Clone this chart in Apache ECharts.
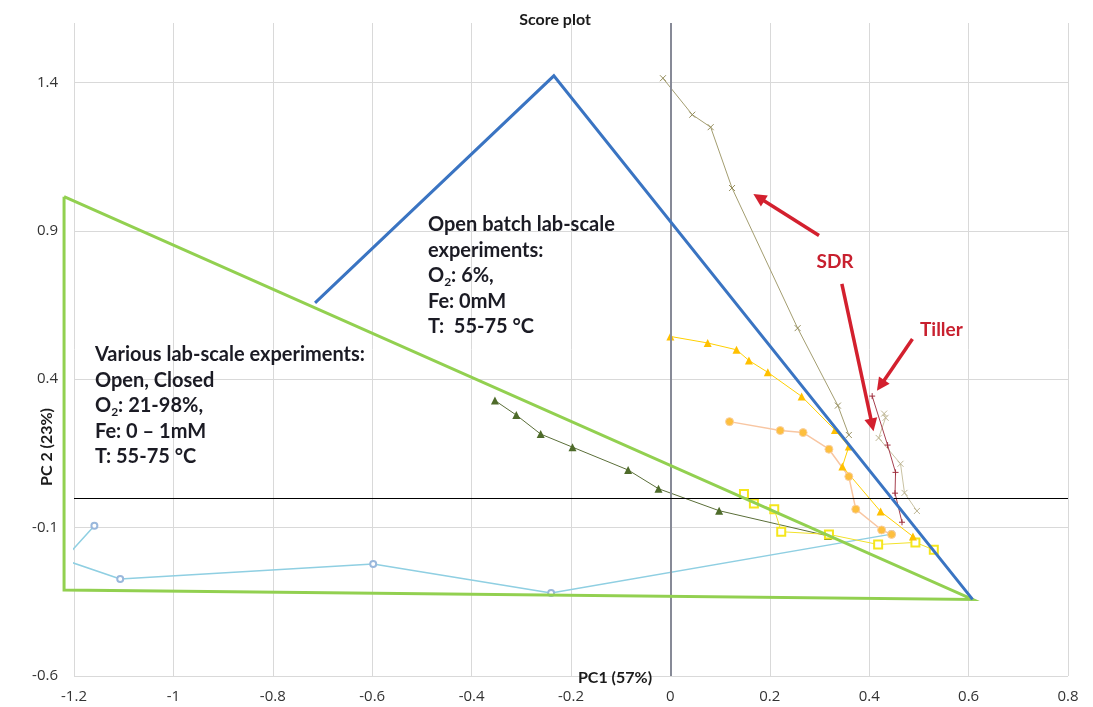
<!DOCTYPE html>
<html><head><meta charset="utf-8">
<script src="https://cdn.jsdelivr.net/npm/echarts@6/dist/echarts.min.js"></script>
<style>html,body{margin:0;padding:0;background:#fff}#c{width:1093px;height:707px}</style>
</head><body><div id="c"></div>
<script>
// ---- data (PC1, PC2 scores) ----
const sdrX = [-0.015, 0.044, 0.081, 0.124, 0.256, 0.337, 0.359];
const sdrY = [1.414, 1.291, 1.249, 1.044, 0.572, 0.311, 0.212];
const tillerX = [0.406, 0.437, 0.453, 0.452, 0.466];
const tillerY = [0.343, 0.178, 0.086, 0.016, -0.082];
const tanX = [0.430, 0.433, 0.419, 0.463, 0.471, 0.496];
const tanY = [0.284, 0.270, 0.202, 0.115, 0.017, -0.044];
const yTriX = [0.000, 0.075, 0.133, 0.158, 0.196, 0.264, 0.331, 0.359, 0.346, 0.423, 0.488];
const yTriY = [0.544, 0.522, 0.499, 0.463, 0.423, 0.342, 0.229, 0.173, 0.106, -0.046, -0.130];
const orangeX = [0.119, 0.221, 0.267, 0.319, 0.359, 0.373, 0.425, 0.445];
const orangeY = [0.257, 0.227, 0.220, 0.164, 0.072, -0.038, -0.108, -0.123];
const sqX = [0.148, 0.168, 0.209, 0.223, 0.319, 0.418, 0.493, 0.530];
const sqY = [0.013, -0.019, -0.038, -0.114, -0.123, -0.157, -0.150, -0.175];
const dgX = [-0.353, -0.310, -0.261, -0.197, -0.085, -0.024, 0.098, 0.317];
const dgY = [0.328, 0.279, 0.215, 0.171, 0.094, 0.031, -0.043, -0.128];
const lbX = [-1.159, -1.221, -1.107, -0.598, -0.240, 0.445];
const lbY = [-0.094, -0.208, -0.273, -0.223, -0.320, -0.122];
// region outlines
const openX = [-0.715, -0.2345, 0.608];
const openY = [0.657, 1.422, -0.342];
const variousX = [-1.220, -1.220, 0.608, -1.220];
const variousY = [1.015, -0.310, -0.342, 1.015];
// arrows [x1,y1,x2,y2]
const arrowSDR1 = [0.299, 0.884, 0.178, 1.012];
const arrowSDR2 = [0.345, 0.721, 0.406, 0.246];
const arrowTiller = [0.487, 0.535, 0.423, 0.379];
// axes
const xMin = -1.2, xMax = 0.8, xStep = 0.2;
const yMin = -0.6, yMax = 1.6, yStep = 0.5;
const xMinWide = -1.3; // hidden overlay axis so outlines may reach left of -1.2

function pts(xs, ys) { return xs.map((x, i) => [x, ys[i]]); }
const xMark = 'path://M0,0L10,10M10,0L0,10';
const plusMark = 'path://M5,0L5,10M0,5L10,5';
const fmt = v => String(Math.round(v * 10) / 10);

function dataSeries(name, xs, ys, lineColor, symbol, size, itemStyle, lw) {
  return {
    name, type: 'line', data: pts(xs, ys), z: 3,
    symbol, symbolSize: size, showSymbol: true,
    lineStyle: { color: lineColor, width: lw || 1 },
    itemStyle, emphasis: { disabled: true }
  };
}
function arrow(a) { return [{ coord: [a[0], a[1]] }, { coord: [a[2], a[3]] }]; }

const chart = echarts.init(document.getElementById('c'), null, { renderer: 'canvas' });
const labelFont = { fontFamily: 'Open Sans', fontSize: 15, color: '#333' };
const gridLeft = 74, gridRight = 25;
const plotW = 1093 - gridLeft - gridRight;
const wideLeft = gridLeft - plotW * (xMin - xMinWide) / (xMax - xMin);
const option = {
  animation: false,
  grid: [
    { left: gridLeft, right: gridRight, top: 23, bottom: 31, outerBoundsMode: 'none' },
    { left: wideLeft, right: gridRight, top: 23, bottom: 31, outerBoundsMode: 'none' }
  ],
  xAxis: [{
    type: 'value', min: xMin, max: xMax, interval: xStep,
    axisLine: { show: false }, axisTick: { show: false },
    splitLine: { show: true, lineStyle: { color: '#d9d9d9', width: 1 } },
    axisLabel: Object.assign({ margin: 13, formatter: fmt }, labelFont)
  }, {
    type: 'value', gridIndex: 1, min: xMinWide, max: xMax, show: false, splitLine: { show: false }
  }],
  yAxis: [{
    type: 'value', min: yMin, max: yMax, interval: yStep,
    axisLine: { show: false }, axisTick: { show: false },
    splitLine: { show: true, showMaxLine: false, lineStyle: { color: '#d9d9d9', width: 1 } },
    axisLabel: Object.assign({ margin: 16, showMaxLabel: false, formatter: fmt }, labelFont)
  }, {
    type: 'value', gridIndex: 1, min: yMin, max: yMax, show: false, splitLine: { show: false }
  }],
  series: [
    { name: 'axes', type: 'line', data: [], z: 1,
      markLine: { silent: true, symbol: 'none', label: { show: false }, animation: false,
        data: [
          { xAxis: 0, lineStyle: { color: '#878a97', width: 2, type: 'solid' } },
          { yAxis: 0, lineStyle: { color: '#000000', width: 1, type: 'solid' } }
        ] } },
    dataSeries('Light blue', lbX, lbY, '#8fcfe2', 'emptyCircle', 6, { color: '#9ab8dc', borderWidth: 1 }, 1.5),
    dataSeries('Dark green', dgX, dgY, '#5a6e38', 'triangle', 8, { color: '#4e6b2a' }),
    dataSeries('Squares', sqX, sqY, '#f2e22a', 'emptyRect', 8, { color: '#f5e61c', borderWidth: 1 }),
    dataSeries('Orange', orangeX, orangeY, '#f8c6a2', 'circle', 8, { color: '#fdbf3e', borderColor: '#f9cfa0', borderWidth: 1 }, 1.5),
    dataSeries('Yellow', yTriX, yTriY, '#ffd000', 'triangle', 8, { color: '#ffc000' }),
    dataSeries('SDR', sdrX, sdrY, '#a39d70', xMark, 6, { color: 'transparent', borderColor: '#958e5e', borderWidth: 1 }),
    dataSeries('Tan', tanX, tanY, '#c9c2a2', xMark, 6, { color: 'transparent', borderColor: '#bdb593', borderWidth: 1 }),
    dataSeries('Tiller', tillerX, tillerY, '#a6404f', plusMark, 6, { color: 'transparent', borderColor: '#a0303f', borderWidth: 1 }),
    { name: 'Various', type: 'line', xAxisIndex: 1, yAxisIndex: 1, data: pts(variousX, variousY), z: 5, clip: false,
      symbol: 'none', lineStyle: { color: '#92d050', width: 3, join: 'miter' } },
    { name: 'Open batch', type: 'line', xAxisIndex: 1, yAxisIndex: 1, data: pts(openX, openY), z: 6, clip: false,
      symbol: 'none', lineStyle: { color: '#3a74c2', width: 3, join: 'miter' } },
    { name: 'arrows', type: 'line', data: [], z: 8,
      markLine: { silent: true, symbol: ['none', 'triangle'], symbolSize: 13, label: { show: false }, animation: false,
        lineStyle: { color: '#d3202e', width: 3.5, type: 'solid' },
        data: [arrow(arrowSDR1), arrow(arrowSDR2), arrow(arrowTiller)] } }
  ],
  graphic: [
    { type: 'text', x: 555, y: 20, z: 20, style: { text: 'Score plot', fontFamily: 'Lato', fontWeight: 'bold', fontSize: 16, fill: '#1a1a1a', align: 'center', verticalAlign: 'middle' } },
    { type: 'text', x: 615, y: 678, z: 20, style: { text: 'PC1 (57%)', fontFamily: 'Lato', fontWeight: 'bold', fontSize: 16, fill: '#1a1a1a', align: 'center', verticalAlign: 'middle' } },
    { type: 'text', x: 47, y: 447, rotation: Math.PI / 2, z: 20, style: { text: 'PC 2 (23%)', fontFamily: 'Lato', fontWeight: 'bold', fontSize: 16, fill: '#1a1a1a', align: 'center', verticalAlign: 'middle' } },
    { type: 'text', x: 428, y: 212, z: 20, style: {
      text: 'Open batch lab-scale\nexperiments:\nO{sub|2}: 6%,\nFe: 0mM\nT:  55-75 °C',
      fontFamily: 'Lato', fontWeight: 'bold', fontSize: 20, lineHeight: 25.5, fill: '#1b1b24',
      rich: { sub: { fontFamily: 'Lato', fontWeight: 'bold', fontSize: 12, lineHeight: 12, verticalAlign: 'bottom', fill: '#1b1b24' } } } },
    { type: 'text', x: 95, y: 342, z: 20, style: {
      text: 'Various lab-scale experiments:\nOpen, Closed\nO{sub|2}: 21-98%,\nFe: 0 – 1mM\nT: 55-75 °C',
      fontFamily: 'Lato', fontWeight: 'bold', fontSize: 20, lineHeight: 25.5, fill: '#1b1b24',
      rich: { sub: { fontFamily: 'Lato', fontWeight: 'bold', fontSize: 12, lineHeight: 12, verticalAlign: 'bottom', fill: '#1b1b24' } } } },
    { type: 'text', x: 835, y: 262, z: 20, style: { text: 'SDR', fontFamily: 'Lato', fontWeight: 'bold', fontSize: 19, fill: '#c8202f', align: 'center', verticalAlign: 'middle' } },
    { type: 'text', x: 920, y: 330, z: 20, style: { text: 'Tiller', fontFamily: 'Lato', fontWeight: 'bold', fontSize: 19, fill: '#c8202f', align: 'left', verticalAlign: 'middle' } }
  ]
};
chart.setOption(option);
</script>
</body></html>
